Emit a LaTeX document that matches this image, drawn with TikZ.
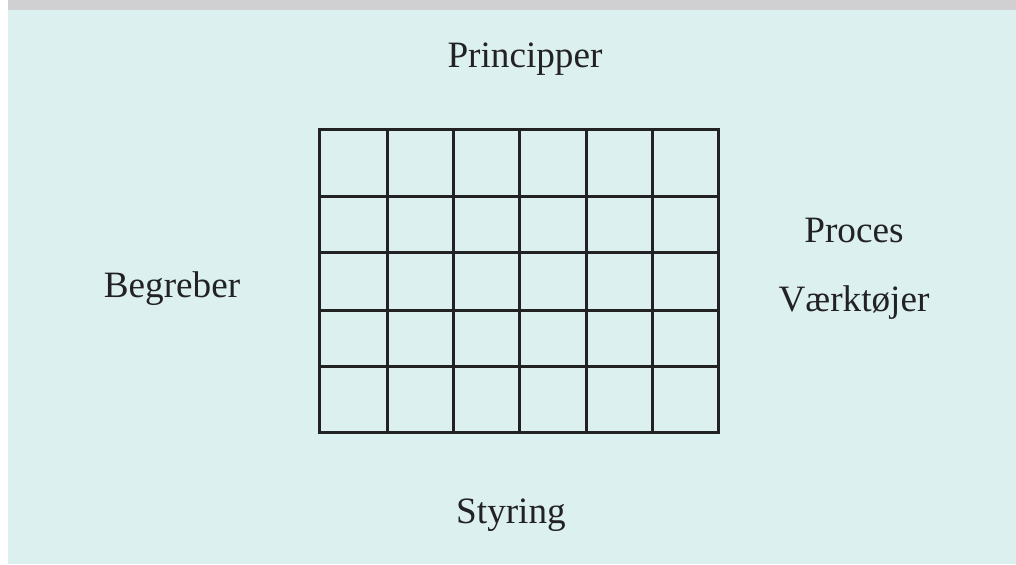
\documentclass[tikz,border=0pt]{standalone}
\usepackage{fontspec}
\setmainfont{Liberation Serif}
\definecolor{panel}{RGB}{220,240,239}
\definecolor{band}{RGB}{208,208,210}
\definecolor{ink}{RGB}{34,34,36}
\begin{document}
\begin{tikzpicture}[x=0.5pt,y=-0.5pt,inner sep=0pt,outer sep=0pt,
label/.style={anchor=base,text=ink,font=\fontsize{18.6}{22}\selectfont},
cell/.style={draw=ink,line width=1.5pt,line cap=rect}]
\useasboundingbox (0,0) rectangle (1016,564);
% background panel with the grey strip on top
\fill[panel] (8,0) rectangle (1016,564);
\fill[band] (8,0) rectangle (1016,9.5);
% the grid: 6 columns, 5 rows
\foreach \x in {319.7,387,453,519.3,586,652,718}
  \draw[cell] (\x,129) -- (\x,432.7);
\foreach \y in {129,196.7,252.7,310.7,366.7,432.7}
  \draw[cell] (319.7,\y) -- (718,\y);
% labels round the grid
\node[label] (princ) at (525,67) {Principper};
\node[label] (begr) at (172,297) {Begreber};
\node[label] (proc) at (854,242) {Proces};
\node[label] (vaerk) at (854,311) {Værktøjer};
\node[label] (styr) at (511,523) {Styring};
\end{tikzpicture}
\end{document}
